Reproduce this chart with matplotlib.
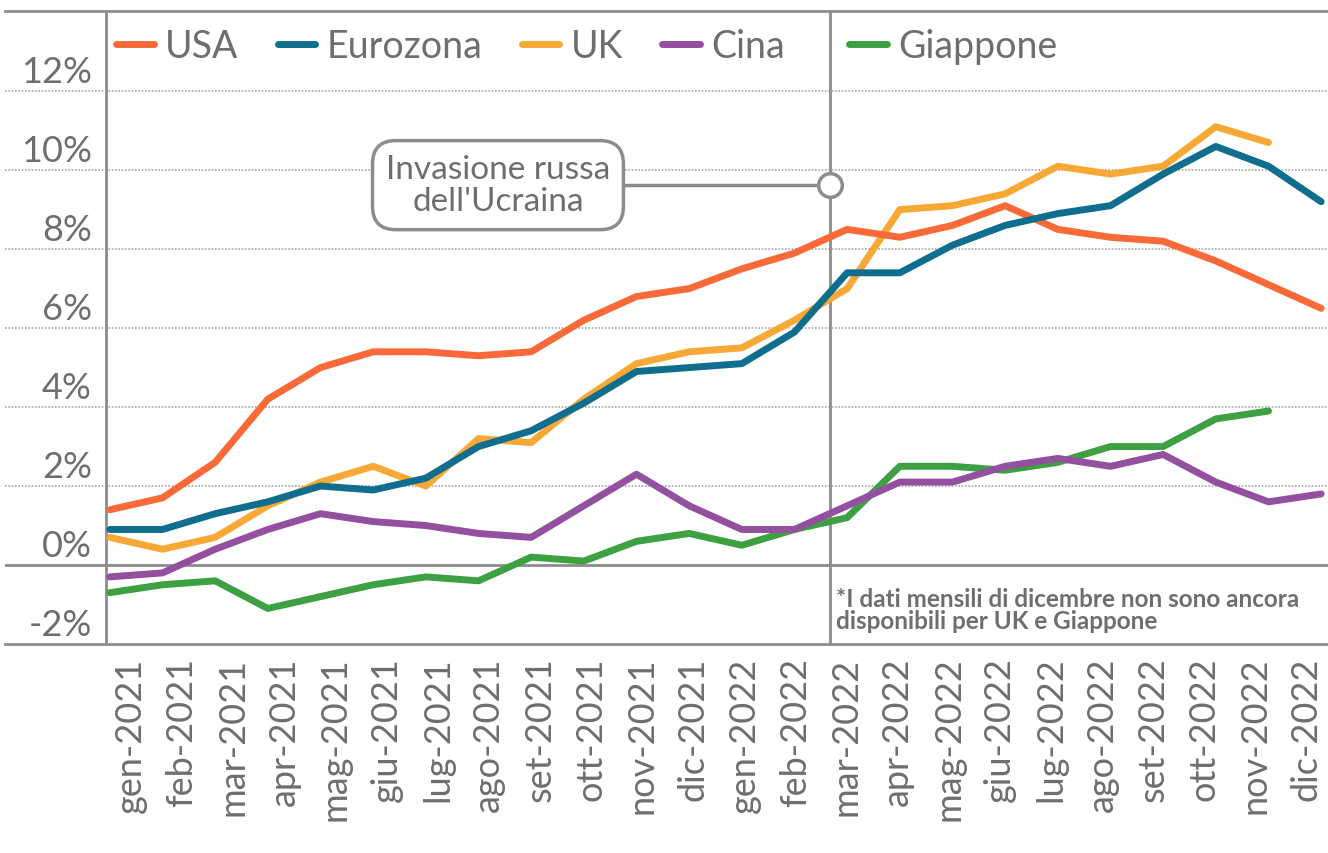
import numpy as np
import matplotlib.pyplot as plt

plt.rcParams['font.family'] = ['Lato', 'DejaVu Sans']

# Inflazione annua (%), gen-2021 .. dic-2022
mesi = ['gen-2021', 'feb-2021', 'mar-2021', 'apr-2021', 'mag-2021', 'giu-2021',
        'lug-2021', 'ago-2021', 'set-2021', 'ott-2021', 'nov-2021', 'dic-2021',
        'gen-2022', 'feb-2022', 'mar-2022', 'apr-2022', 'mag-2022', 'giu-2022',
        'lug-2022', 'ago-2022', 'set-2022', 'ott-2022', 'nov-2022', 'dic-2022']
usa = [1.4, 1.7, 2.6, 4.2, 5.0, 5.4, 5.4, 5.3, 5.4, 6.2, 6.8, 7.0,
       7.5, 7.9, 8.5, 8.3, 8.6, 9.1, 8.5, 8.3, 8.2, 7.7, 7.1, 6.5]
eurozona = [0.9, 0.9, 1.3, 1.6, 2.0, 1.9, 2.2, 3.0, 3.4, 4.1, 4.9, 5.0,
            5.1, 5.9, 7.4, 7.4, 8.1, 8.6, 8.9, 9.1, 9.9, 10.6, 10.1, 9.2]
uk = [0.7, 0.4, 0.7, 1.5, 2.1, 2.5, 2.0, 3.2, 3.1, 4.2, 5.1, 5.4,
      5.5, 6.2, 7.0, 9.0, 9.1, 9.4, 10.1, 9.9, 10.1, 11.1, 10.7]
cina = [-0.3, -0.2, 0.4, 0.9, 1.3, 1.1, 1.0, 0.8, 0.7, 1.5, 2.3, 1.5,
        0.9, 0.9, 1.5, 2.1, 2.1, 2.5, 2.7, 2.5, 2.8, 2.1, 1.6, 1.8]
giappone = [-0.7, -0.5, -0.4, -1.1, -0.8, -0.5, -0.3, -0.4, 0.2, 0.1, 0.6, 0.8,
            0.5, 0.9, 1.2, 2.5, 2.5, 2.4, 2.6, 3.0, 3.0, 3.7, 3.9]

yticks = [-2, 0, 2, 4, 6, 8, 10, 12]
invasione_x = 13.67   # 24 febbraio 2022
invasione_y = 9.62

grigio = '#8c8c8c'
testo = '#6e6e6e'

fig = plt.figure(figsize=(13.28, 8.54), dpi=100)
ax = fig.add_axes([5 / 1328, 1 - 645 / 854, 1 - 5 / 1328, 633 / 854])

x = np.arange(len(mesi))
serie = [('Giappone', giappone, '#3DA042'),
         ('Cina', cina, '#93509F'),
         ('UK', uk, '#F8A935'),
         ('USA', usa, '#FA6A38'),
         ('Eurozona', eurozona, '#0F6E8E')]
linee = {}
for nome, val, col in serie:
    linee[nome], = ax.plot(x[:len(val)], val, color=col, lw=5,
                           solid_capstyle='round', solid_joinstyle='round',
                           label=nome, zorder=3)

ax.set_xlim(-1.99, 23.13)
ax.set_ylim(-2, 14.03)

# griglia e assi
for v in yticks[2:]:
    ax.axhline(v, color='#a5a5a5', lw=1.2, ls=(0, (1, 1)), zorder=1)
ax.axhline(0, color=grigio, lw=2, zorder=2)
ax.plot([-0.076, -0.076], [-2, 14.03], color=grigio, lw=2, zorder=2)
ax.axvline(invasione_x, color=grigio, lw=2, zorder=2)
for s in ['left', 'right']:
    ax.spines[s].set_visible(False)
for s in ['top', 'bottom']:
    ax.spines[s].set_color(grigio)
    ax.spines[s].set_linewidth(2)

ax.set_yticks([])
for v in yticks:
    ax.text(-0.34, v + 0.08, f'{v}%', ha='right', va='bottom', fontsize=26,
            color=testo)

# etichette mensili leggermente spostate rispetto ai punti
pos_etichette = x * (51.1 / 52.65) + 21 / 52.65
ax.set_xticks(pos_etichette)
ax.set_xticklabels(mesi, rotation=90, fontsize=26, color=testo)
ax.tick_params(axis='x', length=0, pad=9)

# legenda
l1 = ax.legend(handles=[linee[n] for n in ['USA', 'Eurozona', 'UK', 'Cina']],
               loc='center left', bbox_to_anchor=(0.084, 0.945), ncol=4,
               frameon=False, fontsize=27, handlelength=1.0, handletextpad=0.3,
               columnspacing=1.05, borderpad=0, borderaxespad=0, labelcolor=testo)
ax.add_artist(l1)
ax.legend(handles=[linee['Giappone']], loc='center left', bbox_to_anchor=(0.638, 0.945),
          frameon=False, fontsize=27, handlelength=1.0, handletextpad=0.3,
          borderpad=0, borderaxespad=0, labelcolor=testo)

# annotazione
ax.plot([7.37, invasione_x], [invasione_y, invasione_y], color=grigio, lw=2.5, zorder=2)
ax.text(7.37, invasione_y, "Invasione russa\ndell'Ucraina", ha='center', va='center',
        fontsize=24, color=testo, zorder=4, linespacing=1.1,
        bbox=dict(boxstyle='round,pad=0.4,rounding_size=0.7', fc='white', ec=grigio, lw=2.5))
ax.plot(invasione_x, invasione_y, 'o', ms=17, mfc='white', mec=grigio, mew=2.5, zorder=5)

ax.text(invasione_x + 0.12, -0.55,
        '*I dati mensili di dicembre non sono ancora\ndisponibili per UK e Giappone',
        ha='left', va='top', fontsize=17.5, fontweight='bold', color=testo, linespacing=0.98)

fig.savefig('out.png', dpi=100)
